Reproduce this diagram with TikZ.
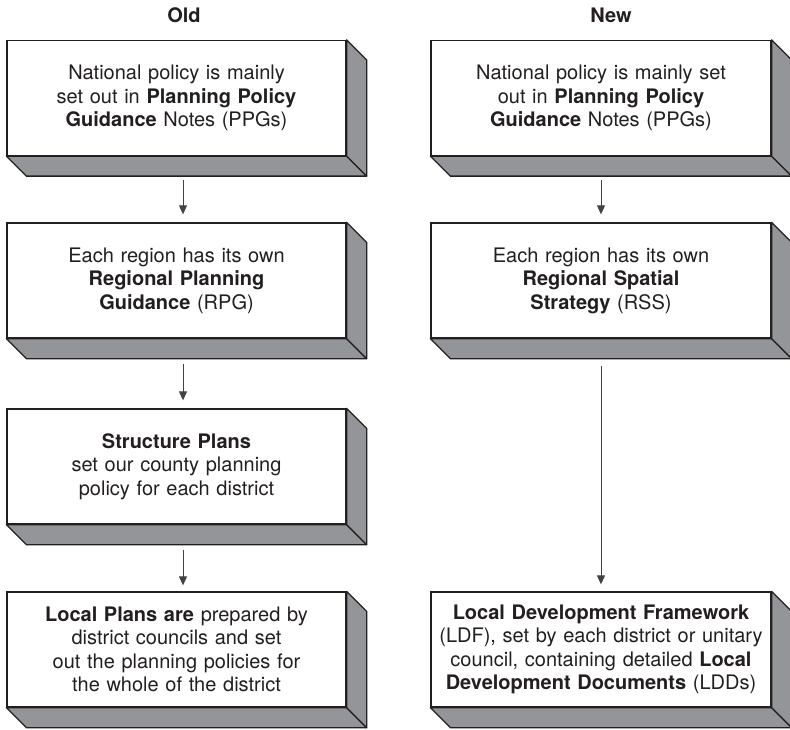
\documentclass[tikz,border=0pt]{standalone}
\usepackage{fontspec}
\setmainfont{TeX Gyre Heros}
\usetikzlibrary{arrows.meta}
\definecolor{sidegray}{HTML}{939598}
\definecolor{ink}{HTML}{231F20}
\tikzset{
  slab/.style={draw=ink, line width=1.3pt, fill=white, minimum width=339pt,
    minimum height=115pt, inner sep=0pt, text width=330pt, align=center,
    font=\fontsize{20}{23.5}\selectfont, text=ink},
  side/.style={draw=ink, line width=1.3pt, fill=sidegray, line join=round},
  arr/.style={draw=ink!85, line width=0.9pt, -{Triangle[length=9pt,width=8pt]}},
  coltitle/.style={font=\bfseries\fontsize{20}{24}\selectfont, text=ink}
}
\newcommand\slabsides[1]{%
  \draw[side] (#1.south west) -- ++(20,20) -- ([shift={(20,20)}]#1.south east) -- (#1.south east) -- cycle;
  \draw[side] (#1.south east) -- ([shift={(20,20)}]#1.south east) -- ([shift={(20,20)}]#1.north east) -- (#1.north east) -- cycle;
}
\begin{document}
\begin{tikzpicture}[x=1pt,y=-1pt]
\useasboundingbox (0,0) rectangle (790,730);
\node[coltitle] (old) at (184,15) {Old};
\node[coltitle] (new) at (611,15) {New};

\node[slab] (L1) at (176.5,98) {National policy is mainly\\ set out in \textbf{Planning Policy}\\ \textbf{Guidance} Notes (PPGs)};
\node[slab] (L2) at (176.5,280.5) {Each region has its own\\ \textbf{Regional Planning}\\ \textbf{Guidance} (RPG)};
\node[slab] (L3) at (176.5,466.5) {\textbf{Structure Plans}\\ set our county planning\\ policy for each district};
\node[slab] (L4) at (176.5,649.5) {\textbf{Local Plans are} prepared by\\ district councils and set\\ out the planning policies for\\ the whole of the district};

\node[slab, minimum width=340pt] (R1) at (601,98) {National policy is mainly set\\ out in \textbf{Planning Policy}\\ \textbf{Guidance} Notes (PPGs)};
\node[slab, minimum width=340pt] (R2) at (601,280.5) {Each region has its own\\ \textbf{Regional Spatial}\\ \textbf{Strategy} (RSS)};
\node[slab, minimum width=340pt] (R4) at (601,649.5) {\textbf{Local Development Framework}\\ (LDF), set by each district or unitary\\ council, containing detailed \textbf{Local}\\ \textbf{Development Documents} (LDDs)};

\foreach \n in {L1,L2,L3,L4,R1,R2,R4} {\slabsides{\n}}

\draw[arr] ([xshift=6.5pt,yshift=-24pt]L1.south) -- ([xshift=6.5pt,yshift=8pt]L2.north);
\draw[arr] ([xshift=6.5pt,yshift=-25pt]L2.south) -- ([xshift=6.5pt,yshift=8pt]L3.north);
\draw[arr] ([xshift=6.5pt,yshift=-25pt]L3.south) -- ([xshift=6.5pt,yshift=6pt]L4.north);
\draw[arr] ([yshift=-24pt]R1.south) -- ([yshift=8pt]R2.north);
\draw[arr] ([yshift=-27pt]R2.south) -- ([yshift=7pt]R4.north);
\end{tikzpicture}
\end{document}
